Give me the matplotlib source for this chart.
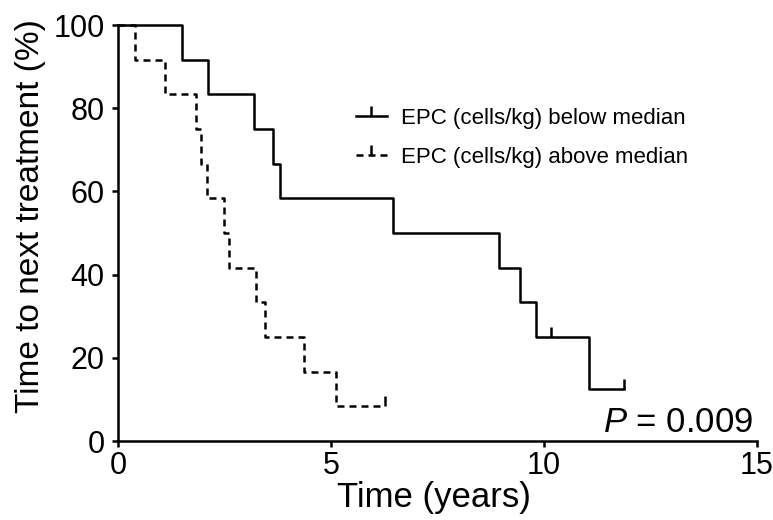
import matplotlib
matplotlib.use('Agg')
import matplotlib.pyplot as plt
from matplotlib.lines import Line2D

plt.rcParams['font.family'] = ['Liberation Sans', 'DejaVu Sans']
plt.rcParams['mathtext.fontset'] = 'custom'
plt.rcParams['mathtext.it'] = 'Liberation Sans:italic'
plt.rcParams['mathtext.rm'] = 'Liberation Sans'

# step curves (time in years, % without next treatment)
below_t = [0, 1.50, 2.11, 3.19, 3.64, 3.80, 6.46, 8.94, 9.44, 9.81, 11.06, 11.88]
below_s = [100, 91.7, 83.3, 75.0, 66.7, 58.3, 50.0, 41.7, 33.3, 25.0, 12.5, 12.5]
below_cens_t = [10.16, 11.88]
below_cens_s = [25.0, 12.5]

above_t = [0, 0.40, 1.10, 1.83, 1.95, 2.09, 2.49, 2.61, 3.24, 3.45, 4.37, 5.12, 6.27]
above_s = [100, 91.7, 83.3, 75.0, 66.7, 58.3, 50.0, 41.7, 33.3, 25.0, 16.7, 8.3, 8.3]
above_cens_t = [6.27]
above_cens_s = [8.3]

labels = ['EPC (cells/kg) below median', 'EPC (cells/kg) above median']
xticks = [0, 5, 10, 15]
yticks = [0, 20, 40, 60, 80, 100]

lw = 1.8
dash = (0, (2.8, 2.0))

fig = plt.figure(figsize=(7.73, 5.20), dpi=100)
ax = fig.add_axes([0.1527, 0.1519, 0.8266, 0.8000])

ax.plot(below_t, below_s, drawstyle='steps-post', color='k', lw=lw, clip_on=False)
ax.plot(below_cens_t, below_cens_s, ls='none', marker=2, ms=7, mew=lw, color='k', clip_on=False)
ax.plot(above_t, above_s, drawstyle='steps-post', color='k', lw=lw, ls=dash, clip_on=False)
ax.plot(above_cens_t, above_cens_s, ls='none', marker=2, ms=7, mew=lw, color='k', clip_on=False)

ax.set_xlim(0, 15)
ax.set_ylim(0, 100)
ax.set_xticks(xticks)
ax.set_yticks(yticks)
ax.tick_params(axis='both', direction='out', length=4.5, width=lw, labelsize=22)
ax.tick_params(axis='y', pad=5)
ax.tick_params(axis='x', pad=3)
for side in ['top', 'right']:
    ax.spines[side].set_visible(False)
for side in ['left', 'bottom']:
    ax.spines[side].set_linewidth(lw)

ax.set_xlabel('Time (years)', fontsize=25)
ax.set_ylabel('Time to next treatment (%)', fontsize=24)
ax.xaxis.set_label_coords(0.4945, -0.095)
ax.yaxis.set_label_coords(-0.113, 0.54)

handles = [
    Line2D([], [], color='k', lw=lw, marker=2, ms=7, mew=lw),
    Line2D([], [], color='k', lw=lw, ls=dash, marker=2, ms=7, mew=lw),
]
ax.legend(handles, labels, loc='upper left', bbox_to_anchor=(0.372, 0.80),
          frameon=False, fontsize=16, handlelength=1.4, handletextpad=0.65,
          labelspacing=0.78, numpoints=1, borderaxespad=0, borderpad=0)

ax.text(0.9937, 0.0216, r'$P$ = 0.009', transform=ax.transAxes,
        ha='right', va='baseline', fontsize=25)

fig.savefig('out.png', dpi=100)
